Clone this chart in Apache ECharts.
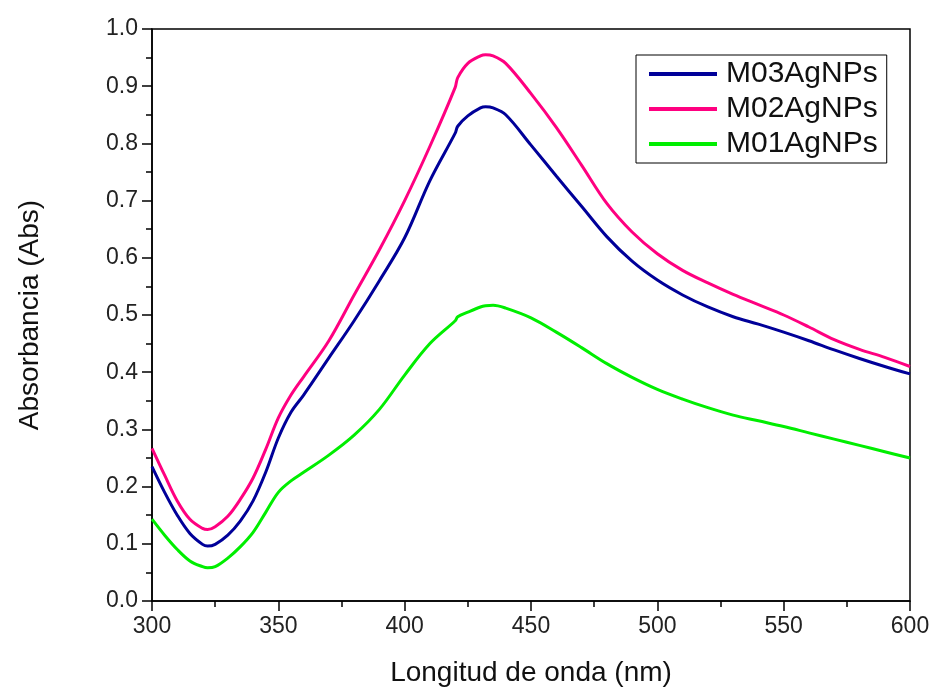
<!DOCTYPE html>
<html>
<head>
<meta charset="utf-8">
<script src="https://cdn.jsdelivr.net/npm/echarts@6/dist/echarts.min.js"></script>
<style>
  html, body { margin: 0; padding: 0; background: #fff; }
  #chart { width: 941px; height: 693px; }
</style>
</head>
<body>
<div id="chart"></div>
<script>
// longitud de onda (nm)
var wavelength = [300, 305, 310, 315, 320, 322, 325, 330, 335, 340, 345, 350, 355, 360, 370, 380, 390,
  400, 410, 420, 421, 425, 430, 432, 435, 440, 450, 460, 470, 480, 490, 500, 510, 520, 530, 540,
  550, 560, 570, 580, 590, 600];

var m03 = [0.235, 0.19, 0.15, 0.118, 0.099, 0.096, 0.099, 0.115, 0.14, 0.175, 0.225, 0.285, 0.33, 0.36, 0.425, 0.49, 0.56,
  0.635, 0.735, 0.818, 0.83, 0.848, 0.862, 0.864, 0.862, 0.85, 0.797, 0.743, 0.69, 0.637, 0.594, 0.561, 0.535, 0.514, 0.497, 0.484,
  0.47, 0.455, 0.439, 0.424, 0.41, 0.397];

var m02 = [0.267, 0.22, 0.175, 0.143, 0.127, 0.125, 0.13, 0.148, 0.178, 0.215, 0.265, 0.32, 0.36, 0.392, 0.455, 0.535, 0.614,
  0.70, 0.795, 0.898, 0.915, 0.94, 0.953, 0.955, 0.953, 0.94, 0.887, 0.828, 0.762, 0.695, 0.645, 0.607, 0.578, 0.556, 0.536, 0.518,
  0.50, 0.479, 0.457, 0.44, 0.426, 0.41];

var m01 = [0.143, 0.115, 0.09, 0.07, 0.06, 0.058, 0.06, 0.075, 0.095, 0.12, 0.155, 0.19, 0.21, 0.225, 0.255, 0.29, 0.335,
  0.395, 0.45, 0.49, 0.497, 0.505, 0.514, 0.516, 0.517, 0.512, 0.495, 0.47, 0.443, 0.415, 0.391, 0.37, 0.353, 0.338, 0.325, 0.315,
  0.305, 0.294, 0.283, 0.272, 0.261, 0.25];

var seriesNames = ['M03AgNPs', 'M02AgNPs', 'M01AgNPs'];
var colors = ['#000099', '#ff0080', '#00ee00'];

function pairs(ys) {
  var out = [];
  for (var i = 0; i < wavelength.length; i++) {
    out.push([wavelength[i], ys[i]]);
  }
  return out;
}

var chart = echarts.init(document.getElementById('chart'));
var font = 'Liberation Sans, Arial, sans-serif';

function lineSeries(name, ys) {
  return {
    name: name,
    type: 'line',
    data: pairs(ys),
    smooth: 0.35,
    showSymbol: false,
    lineStyle: { width: 3 }
  };
}

var option = {
  backgroundColor: '#ffffff',
  animation: false,
  color: colors,
  grid: {
    left: 152, right: 31, top: 29, bottom: 92,
    show: true,
    borderColor: '#000',
    borderWidth: 1.5
  },
  legend: {
    orient: 'vertical',
    left: 636,
    top: 55,
    data: seriesNames,
    icon: 'rect',
    itemWidth: 68,
    itemHeight: 4,
    itemGap: 5,
    padding: [4, 9, 4, 13],
    borderColor: '#000',
    borderWidth: 1,
    textStyle: { fontFamily: font, fontSize: 30, color: '#111', padding: [0, 0, 0, 4] }
  },
  xAxis: {
    type: 'value',
    min: 300, max: 600, interval: 50,
    name: 'Longitud de onda (nm)',
    nameLocation: 'middle',
    nameGap: 58,
    nameTextStyle: { fontFamily: font, fontSize: 28, color: '#111' },
    axisLine: { show: true, lineStyle: { color: '#000', width: 1.5 } },
    axisTick: { show: true, inside: false, length: 10, lineStyle: { color: '#000', width: 1.5 } },
    minorTick: { show: true, splitNumber: 2, length: 6, lineStyle: { color: '#000', width: 1.5 } },
    axisLabel: { fontFamily: font, fontSize: 23, color: '#222', margin: 14 },
    splitLine: { show: false }
  },
  yAxis: {
    type: 'value',
    min: 0, max: 1, interval: 0.1,
    name: 'Absorbancia (Abs)',
    nameLocation: 'middle',
    nameGap: 108,
    nameTextStyle: { fontFamily: font, fontSize: 28, color: '#111' },
    axisLine: { show: true, lineStyle: { color: '#000', width: 1.5 } },
    axisTick: { show: true, inside: false, length: 10, lineStyle: { color: '#000', width: 1.5 } },
    minorTick: { show: true, splitNumber: 2, length: 6, lineStyle: { color: '#000', width: 1.5 } },
    axisLabel: {
      fontFamily: font, fontSize: 23, color: '#222', margin: 14,
      formatter: function (v) { return v.toFixed(1); }
    },
    splitLine: { show: false }
  },
  series: [
    lineSeries(seriesNames[0], m03),
    lineSeries(seriesNames[1], m02),
    lineSeries(seriesNames[2], m01)
  ]
};

chart.setOption(option);
</script>
</body>
</html>
